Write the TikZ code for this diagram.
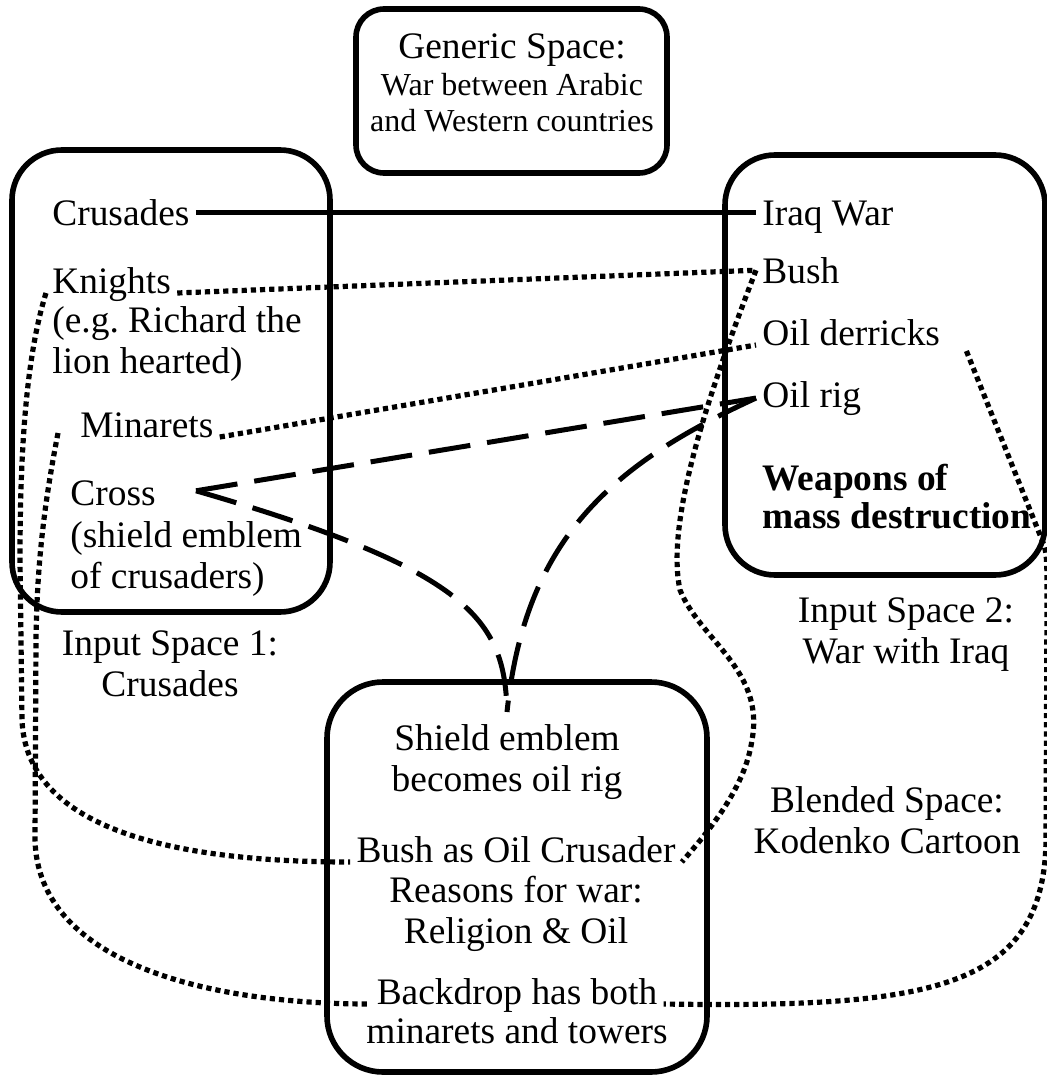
\documentclass[tikz,border=0pt]{standalone}
\usepackage{fontspec}
\setmainfont{Liberation Serif}
\usetikzlibrary{calc}
\begin{document}
\begin{tikzpicture}[x=0.5pt, y=-0.5pt]

    % Define styles
    \tikzstyle{spacebox} = [
        rectangle, rounded corners=25pt,
        draw=black, line width=2.8pt
    ]
    \tikzstyle{item} = [inner sep=3pt, font={\fontsize{18.7}{20.5}\selectfont}]
    \tikzstyle{solidlink} = [line width=2.3pt]
    \tikzstyle{dotlink} = [line width=2.6pt, dash pattern=on 2.6pt off 2pt]
    \tikzstyle{dashlink} = [line width=2.5pt, dash pattern=on 21pt off 8.5pt]

    \useasboundingbox (0,0) rectangle (1047,1076);

    % Spaces
    \node[spacebox, rounded corners=14pt, minimum width=155.5pt, minimum height=82pt] (generic) at (511.5,91) {};
    \node[spacebox, minimum width=159pt, minimum height=231pt] (input1) at (171,381) {};
    \node[spacebox, minimum width=160pt, minimum height=210pt] (input2) at (885,365) {};
    \node[spacebox, rounded corners=28pt, minimum width=190pt, minimum height=195pt] (blend) at (517,877) {};

    % Generic space
    \node[item, anchor=base] (genericlabel) at (512,58) {Generic Space:};
    \node[item, anchor=north, align=center, font={\fontsize{16}{18}\selectfont}] (genericnote) at (512,67)
        {War between Arabic\\and Western countries};

    % Input space 1
    \node[item, anchor=base west] (crusades) at (46,225) {Crusades};
    \node[item, anchor=base west] (knights) at (46,293) {Knights};
    \node[item, anchor=north west, align=left] (knightsnote) at (46,300) {(e.g.\ Richard the\\lion hearted)};
    \node[item, anchor=base west] (minarets) at (74,437) {Minarets};
    \node[item, anchor=base west] (cross) at (64,505) {Cross};
    \node[item, anchor=north west, align=left] (crossnote) at (64,515) {(shield emblem\\of crusaders)};
    \node[item, anchor=north, align=center] (label1) at (170,624) {Input Space 1:\\Crusades};
    \coordinate (crosstip) at ($(cross.east)+(34,-2)$);

    % Input space 2
    \node[item, anchor=base west] (iraqwar) at (756,225) {Iraq War};
    \node[item, anchor=base west] (bush) at (756,283) {Bush};
    \node[item, anchor=base west] (oilderricks) at (756,345) {Oil derricks};
    \node[item, anchor=base west] (oilrig) at (756,407) {Oil rig};
    \node[item, anchor=north west, align=left, font={\fontsize{18.7}{19}\selectfont\bfseries}] (weapons) at (756,458)
        {Weapons of\\mass destruction};
    \node[item, anchor=north, align=center] (label2) at (906,591) {Input Space 2:\\War with Iraq};

    % Blended space
    \node[item, anchor=north, align=center, inner sep=6pt] (shield) at (507,712) {Shield emblem\\becomes oil rig};
    \node[item, anchor=base] (bushcrusader) at (516,862) {Bush as Oil Crusader};
    \node[item, anchor=north, align=center] (reasons) at (516,870) {Reasons for war:\\Religion \& Oil};
    \node[item, anchor=base] (backdrop) at (517,1004) {Backdrop has both};
    \node[item, anchor=base] (backdropnote) at (517,1043) {minarets and towers};
    \node[item, anchor=north, align=center] (label3) at (887,780) {Blended Space:\\Kodenko Cartoon};

    % Mappings
    \draw[solidlink] (crusades.east) -- (crusades.east -| iraqwar.west);
    \draw[dotlink] (knights.base east) -- (bush.west);
    \draw[dotlink] (minarets.base east) -- (oilderricks.base west);
    \draw[dashlink] (crosstip) -- (oilrig.west);

    % Projections into the blend
    \draw[dashlink] (crosstip) .. controls (470,570) and (505,620) .. (shield.north);
    \draw[dashlink] (oilrig.west) .. controls (610,465) and (525,540) .. (shield.north);
    \draw[dotlink] (knights.base west) .. controls (25,360) and (20,460) .. (20,560) -- (22,720)
        .. controls (26,820) and (150,862) .. (bushcrusader.base west);
    \draw[dotlink] ($(minarets.base west)+(-16,-4)$) .. controls (45,500) and (37,560) .. (36,640) -- (35,840)
        .. controls (38,960) and (200,1004) .. (backdrop.base west);
    \draw[dotlink] (bush.west) .. controls (710,390) and (665,520) .. (680,590)
        .. controls (700,640) and (765,670) .. (752,740)
        .. controls (745,790) and (705,835) .. (bushcrusader.base east);
    \draw[dotlink] ($(oilderricks.base east)+(20,6)$) -- (1040,535) .. controls (1047,552) .. (1047,600) -- (1046,840)
        .. controls (1044,990) and (930,1008) .. (backdrop.base east);

\end{tikzpicture}
\end{document}
